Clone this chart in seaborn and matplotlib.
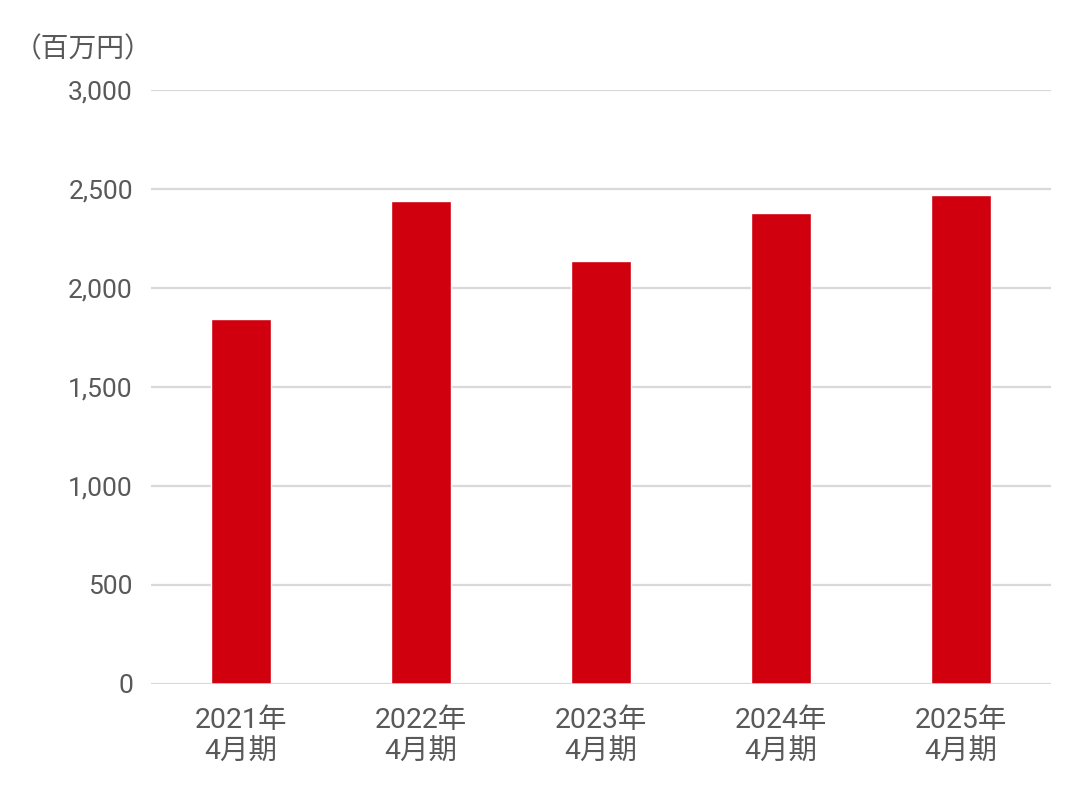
import pandas as pd
import matplotlib.pyplot as plt
import seaborn as sns

# Fiscal years (ending April) and values in millions of yen
periods = ['2021年\n4月期', '2022年\n4月期', '2023年\n4月期', '2024年\n4月期', '2025年\n4月期']
values = [1845, 2440, 2135, 2380, 2470]
y_ticks = [0, 500, 1000, 1500, 2000, 2500, 3000]

df = pd.DataFrame({'period': periods, 'value': values})

sns.set_style('white')
plt.rcParams['font.family'] = ['Roboto', 'Noto Sans CJK JP', 'DejaVu Sans']

text_color = '#595959'
grid_color = '#d9d9d9'

fig = plt.figure(figsize=(10.8, 8.0), dpi=100)
ax = fig.add_axes([0.1398, 0.1455, 0.8334, 0.742])

sns.barplot(data=df, x='period', y='value', color='#d0000f', saturation=1,
            width=1/3, ax=ax, zorder=3)

ax.set_ylim(0, 3000)
ax.set_xlim(-0.5, 4.5)
ax.set_yticks(y_ticks)
ax.set_yticklabels([f'{v:,}' for v in y_ticks])
ax.yaxis.grid(True, color=grid_color, linewidth=1.6, zorder=0)
ax.set_axisbelow(True)
for s in ax.spines.values():
    s.set_visible(False)
ax.axhline(0, color=grid_color, linewidth=1.8, zorder=4)

ax.tick_params(axis='y', length=0, pad=13, labelsize=19, labelcolor=text_color)
ax.tick_params(axis='x', length=0, pad=17, labelsize=20.5, labelcolor=text_color)
for lbl in ax.get_xticklabels():
    lbl.set_linespacing(1.2)
ax.set_xlabel('')
ax.set_ylabel('')

fig.text(0.013, 0.938, '（百万円）', fontsize=20, color=text_color,
         ha='left', va='center')

fig.savefig('out.png', dpi=100)
